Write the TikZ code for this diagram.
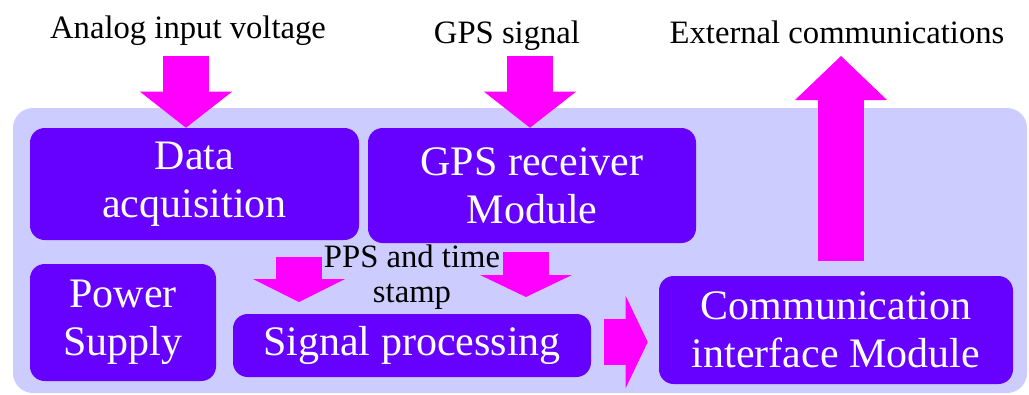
\documentclass[tikz,border=0pt]{standalone}
\usepackage{fontspec}
\setmainfont{Liberation Serif}
\usepackage{tikz}
\usepackage{xcolor}
\usetikzlibrary{arrows.meta,calc,positioning}

\definecolor{panel}{RGB}{204,204,255}
\definecolor{block}{RGB}{102,0,255}
\definecolor{flow}{RGB}{255,0,255}

\begin{document}
\begin{tikzpicture}[x=0.75pt,y=0.75pt,yscale=-1,xscale=1,
  blk/.style={fill=block, rounded corners=11pt, text=white, align=center, inner sep=0pt, font=\fontsize{31.5}{36}\selectfont},
  lbl/.style={align=center, inner sep=0.75pt, font=\fontsize{24.5}{26}\selectfont},
  fat/.style={draw=flow, line width=34.5pt, -{Triangle[length=#1, width=69pt, line width=0pt]}}]
\useasboundingbox (0,0) rectangle (1029,394);

%Shape: Rounded Rect [panel]
\fill [panel, rounded corners=15pt] (13,108) rectangle (1027,393) ;

% Blocks
\node [blk, minimum width=246.75pt, minimum height=84pt] (daq) at (194.5,184) {Data\\acquisition};
\node [blk, minimum width=246pt, minimum height=86.25pt] (gps) at (532,185.5) {GPS receiver\\Module};
\node [blk, minimum width=139.5pt, minimum height=87.75pt] (pwr) at (123,322.5) {Power\\Supply};
\node [blk, minimum width=268.5pt, minimum height=47.25pt] (sig) at (412,345.5) {Signal processing};
\node [blk, minimum width=265.5pt, minimum height=81pt] (comm) at (836,330) {Communication\\interface Module};

% Text Node
\node [lbl, anchor=base] (ain) at (188,38) {Analog input voltage};
% Text Node
\node [lbl, anchor=base] (gsig) at (507,43) {GPS signal};
% Text Node
\node [lbl, anchor=base] (ext) at (837,43) {External communications};
% Text Node
\node [lbl] (pps) at (412,277) {PPS and time\\stamp};

% Arrows
\coordinate (ainTop) at (186,56);
\draw [fat=27pt] (ainTop) -- (ainTop |- daq.north) ;
\coordinate (gpsTop) at (530,56);
\draw [fat=27pt] (gpsTop) -- (gpsTop |- gps.north) ;
\coordinate (extBot) at (841,261);
\draw [fat=33pt] (extBot) -- ++(0,-205) ;
\coordinate (ppsA) at (299,257);
\draw [fat=17.25pt] (ppsA) -- ++(0,45) ;
\coordinate (ppsB) at (526,252);
\draw [fat=16.5pt] (ppsB) -- ++(0,45) ;
\draw [fat=16.5pt] ($(sig.east)+(13,-3.5)$) -- ($(sig.east -| comm.west)+(-11,-3.5)$) ;

\end{tikzpicture}
\end{document}
